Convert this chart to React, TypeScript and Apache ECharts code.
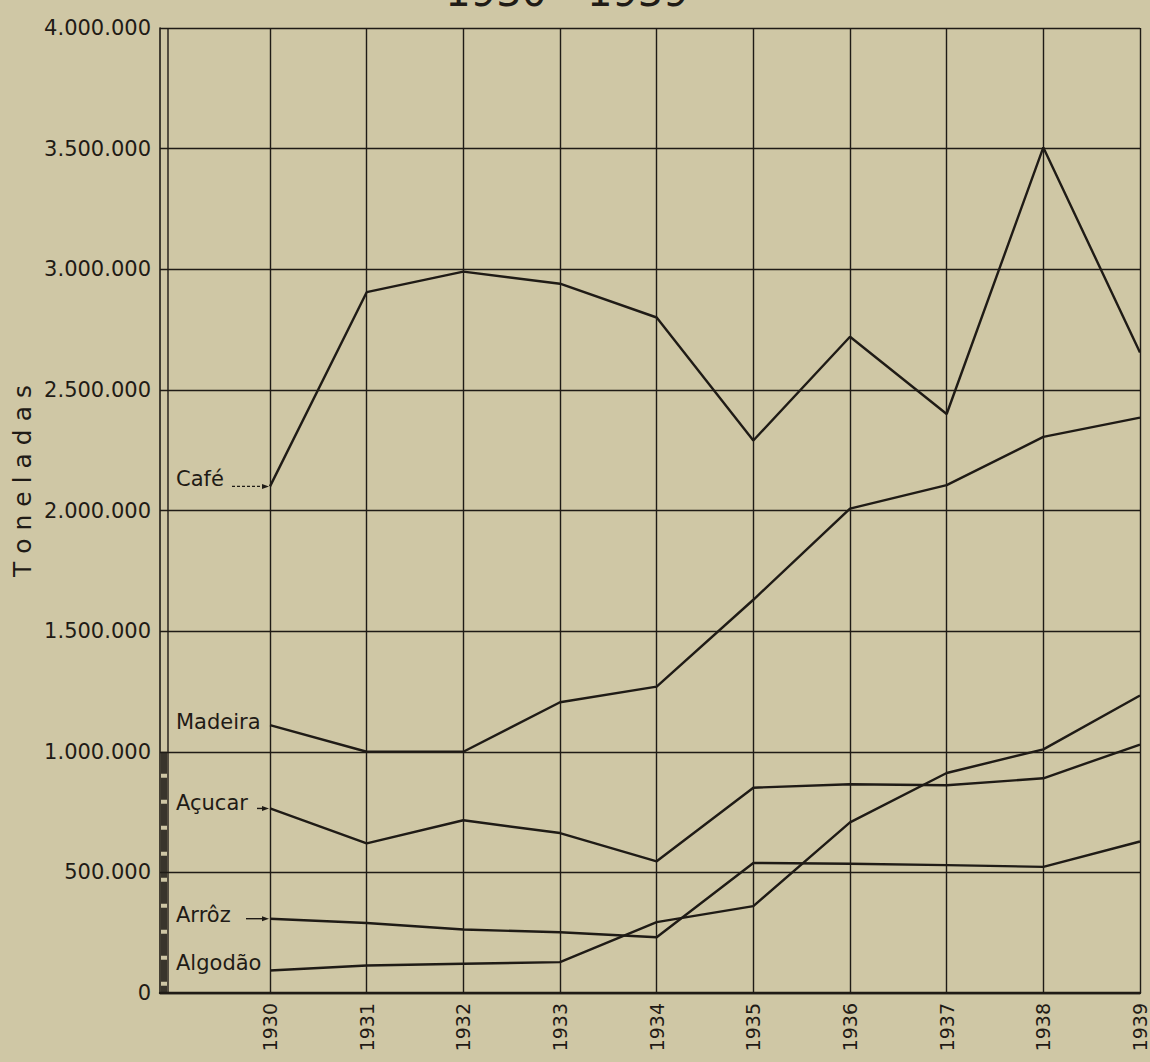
import React, { useEffect, useRef } from "react";
import * as echarts from "echarts";

const years = [1930, 1931, 1932, 1933, 1934, 1935, 1936, 1937, 1938, 1939];
const cafe = [2100000, 2905000, 2990000, 2940000, 2800000, 2290000, 2720000, 2400000, 3505000, 2655000];
const madeira = [1110000, 1000000, 1000000, 1205000, 1270000, 1630000, 2008000, 2105000, 2305000, 2385000];
const acucar = [765000, 620000, 716000, 663000, 546000, 851000, 865000, 861000, 890000, 1030000];
const arroz = [308000, 290000, 263000, 252000, 231000, 539000, 536000, 530000, 523000, 628000];
const algodao = [93000, 114000, 121000, 128000, 294000, 360000, 707000, 912000, 1010000, 1233000];
const seriesNames = ["Café", "Madeira", "Açucar", "Arrôz", "Algodão"];
const titleText = "1930 - 1939";
const yAxisName = "T o n e l a d a s";

// layout / style config (not data)
const labelDy = [-7, -3, -5, -4, -8];
const arrowFrom: (number | null)[] = [232, null, 257, 246, null];
const arrowDashed = [true, false, false, false, false];

export default function App() {
  const ref = useRef<HTMLDivElement>(null);
  useEffect(() => {
    document.body.style.margin = "0";
    const chart = echarts.init(ref.current!, null, { renderer: "svg" });
    const ink = "#1f1b16";
    const font = "DejaVu Sans";
    const all = [cafe, madeira, acucar, arroz, algodao];
    const fmt = (v: number) => String(v).replace(/\B(?=(\d{3})+(?!\d))/g, ".");
    const series = all.map((arr, i) => ({
      type: "line",
      name: seriesNames[i],
      data: years.map((y, k) => [y, arr[k]]),
      symbol: "none",
      showSymbol: false,
      lineStyle: { color: ink, width: 2.4 },
      z: 3,
      ...(i === 0
        ? {
            markLine: {
              silent: true,
              symbol: "none",
              label: { show: false },
              lineStyle: { color: ink, width: 1.4, type: "solid" },
              data: years.map((y) => ({ xAxis: y })),
            },
          }
        : {}),
    }));
    chart.setOption({
      animation: false,
      backgroundColor: "#cfc7a5",
      grid: { left: 160, right: 10, top: 28, bottom: 69 },
      xAxis: {
        type: "value",
        min: 1928.862,
        max: 1939,
        axisLine: { show: true, onZero: false, lineStyle: { color: ink, width: 2.4 } },
        axisTick: { show: false, customValues: years },
        splitLine: { show: false },
        axisLabel: {
          customValues: years,
          rotate: 90,
          margin: 10,
          fontSize: 19,
          fontFamily: font,
          color: ink,
          formatter: (v: number) => String(v),
        },
      },
      yAxis: {
        type: "value",
        min: 0,
        max: 4000000,
        interval: 500000,
        axisLine: { show: true, lineStyle: { color: ink, width: 1.6 } },
        axisTick: { show: false },
        splitLine: { show: true, lineStyle: { color: ink, width: 1.4 } },
        axisLabel: {
          fontSize: 21,
          fontFamily: font,
          color: ink,
          margin: 9,
          padding: [0, 0, 12, 0],
          formatter: (v: number) => fmt(v),
        },
      },
      series,
    });

    const gr: any[] = [];
    gr.push({
      type: "text",
      x: 567,
      y: -8,
      style: { text: titleText, font: `40px "${font}"`, fill: ink, align: "center", verticalAlign: "middle" },
    });
    gr.push({
      type: "text",
      x: 22,
      y: 481,
      rotation: Math.PI / 2,
      style: { text: yAxisName, font: `25px "${font}"`, fill: ink, align: "center", verticalAlign: "middle" },
    });
    gr.push({
      type: "line",
      shape: { x1: 168, y1: 28, x2: 168, y2: 993 },
      style: { stroke: ink, lineWidth: 1.4 },
    });
    const p1m = chart.convertToPixel({ gridIndex: 0 }, [1929, 1000000]) as number[];
    const p0 = chart.convertToPixel({ gridIndex: 0 }, [1929, 0]) as number[];
    gr.push({
      type: "line",
      shape: { x1: 164, y1: p1m[1], x2: 164, y2: p0[1] },
      style: { stroke: ink, lineWidth: 6, lineDash: [22, 4], opacity: 0.85 },
    });
    all.forEach((arr, i) => {
      const [px, py] = chart.convertToPixel({ gridIndex: 0 }, [years[0], arr[0]]) as number[];
      gr.push({
        type: "text",
        x: 176,
        y: py + labelDy[i],
        style: { text: seriesNames[i], font: `21px "${font}"`, fill: ink, align: "left", verticalAlign: "middle" },
      });
      const from = arrowFrom[i];
      if (from != null) {
        gr.push({
          type: "line",
          shape: { x1: from, y1: py, x2: px - 5, y2: py },
          style: { stroke: ink, lineWidth: 1.4, lineDash: arrowDashed[i] ? [3, 2] : null },
        });
        gr.push({
          type: "polygon",
          shape: { points: [[px - 1, py], [px - 8, py - 2.5], [px - 8, py + 2.5]] },
          style: { fill: ink },
        });
      }
    });
    chart.setOption({ graphic: gr });
    return () => chart.dispose();
  }, []);
  return <div ref={ref} style={{ width: 1150, height: 1062, position: "absolute", left: 0, top: 0 }} />;
}
